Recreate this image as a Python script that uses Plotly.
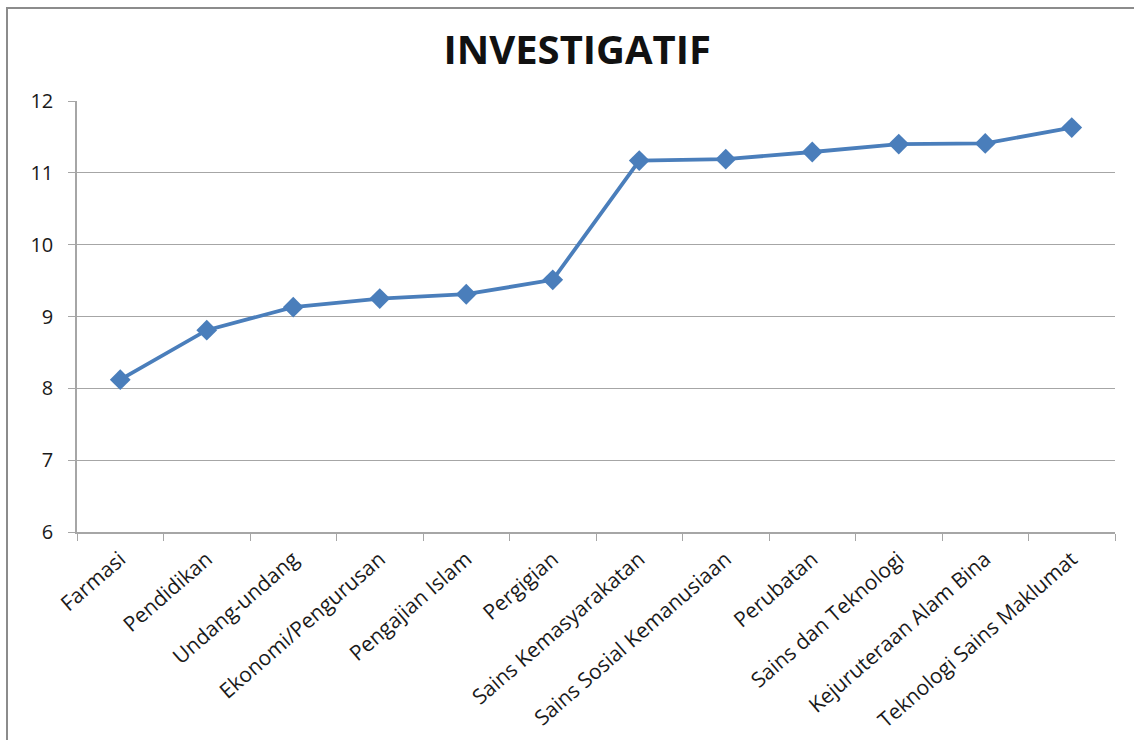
import plotly.graph_objects as go

# Programme categories and their mean "Investigatif" scores
categories = [
    "Farmasi", "Pendidikan", "Undang-undang", "Ekonomi/Pengurusan",
    "Pengajian Islam", "Pergigian", "Sains Kemasyarakatan",
    "Sains Sosial Kemanusiaan", "Perubatan", "Sains dan Teknologi",
    "Kejuruteraan Alam Bina", "Teknologi Sains Maklumat",
]
scores = [8.12, 8.81, 9.13, 9.25, 9.31, 9.51, 11.17, 11.19, 11.29, 11.40, 11.41, 11.63]
y_ticks = [6, 7, 8, 9, 10, 11, 12]

FONT = "'Open Sans', Lato, sans-serif"
BLUE = "#4a7ebb"
GRID = "#a6a6a6"

fig = go.Figure(
    go.Scatter(
        x=categories,
        y=scores,
        mode="lines+markers",
        line=dict(color=BLUE, width=3.8),
        marker=dict(symbol="diamond", size=16, color=BLUE),
        showlegend=False,
    )
)

fig.update_layout(
    width=1134,
    height=740,
    margin=dict(l=77, r=19, t=101, b=208),
    paper_bgcolor="white",
    plot_bgcolor="white",
    font=dict(family=FONT, color="#1a1a1a"),
    title=dict(
        text="<b>INVESTIGATIF</b>",
        x=0.509,
        xanchor="center",
        y=0.933,
        yanchor="middle",
        font=dict(family=FONT, size=40, color="#111111"),
    ),
    xaxis=dict(
        type="category",
        range=[-0.5, len(categories) - 0.5],
        automargin=False,
        tickson="boundaries",
        ticks="outside",
        ticklen=7,
        tickcolor=GRID,
        showline=True,
        linecolor=GRID,
        linewidth=1.5,
        showgrid=False,
        tickangle=-41,
        tickfont=dict(size=21, family=FONT, color="#1a1a1a"),
        ticklabelstandoff=5,
    ),
    yaxis=dict(
        range=[6, 12],
        automargin=False,
        tickvals=y_ticks,
        ticks="outside",
        ticklen=7,
        tickcolor=GRID,
        showline=True,
        linecolor=GRID,
        linewidth=1.5,
        showgrid=True,
        gridcolor=GRID,
        gridwidth=1.2,
        zeroline=False,
        tickfont=dict(size=20, family=FONT, color="#1a1a1a"),
        ticklabelstandoff=11,
    ),
    shapes=[
        # outer chart frame (left and top edges visible)
        dict(
            type="rect",
            xref="paper", yref="paper",
            x0=(7 - 77) / 1038, x1=(1150 - 77) / 1038,
            y0=(532 - 760) / 431, y1=(532 - 8) / 431,
            line=dict(color="#8c8c8c", width=2),
            fillcolor="rgba(0,0,0,0)",
            layer="below",
        )
    ],
)

fig.write_html("out.html")
